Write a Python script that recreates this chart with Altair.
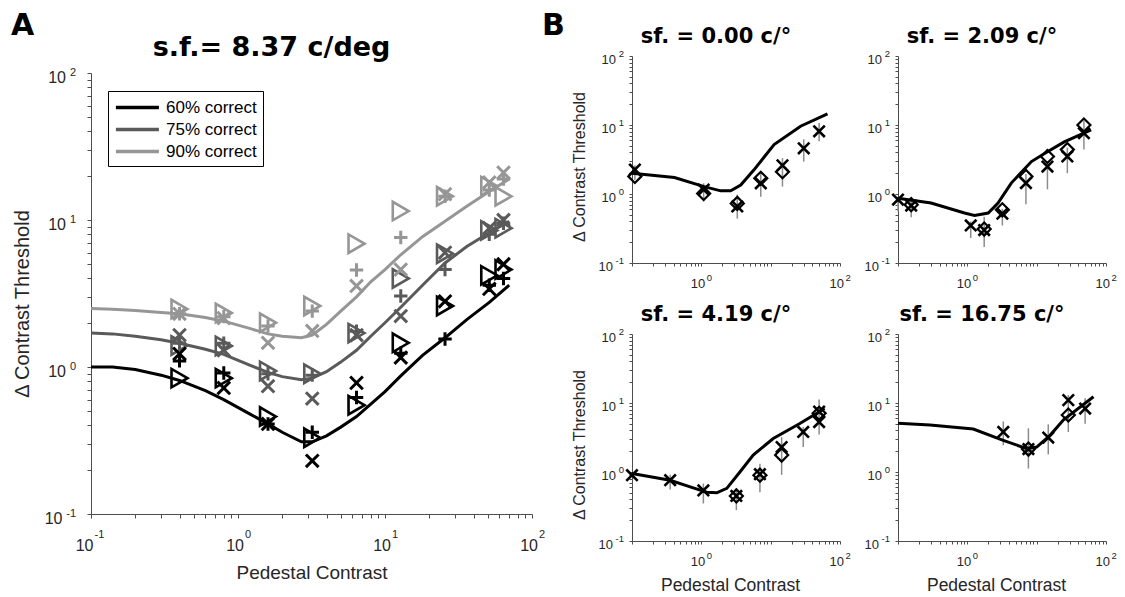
import altair as alt
import pandas as pd

# ---------------- style ----------------
FONT = "Liberation Sans"
BOLD_FONT = "DejaVu Sans"
TXT = "#262626"
AXC = "#4d4d4d"

# ---------------- Panel A data ----------------
A_levels = ["60% correct", "75% correct", "90% correct"]
A_colors = ["#000000", "#5a5a5a", "#969696"]

A_pts_x = [0.4, 0.8, 1.6, 3.2, 6.4, 12.8, 25.6, 51.2, 64]
A_tri_60 = [0.84, 0.84, 0.46, 0.33, 0.55, 1.46, 2.6, 4.2, 4.6]
A_plus_60 = [1.1, 0.91, 0.41, 0.36, 0.62, 1.24, 1.55, 3.6, 4.0]
A_x_60 = [1.23, 0.72, 0.41, 0.23, 0.78, 1.16, 2.8, 3.4, 5.0]
A_tri_75 = [1.4, 1.39, 0.94, 0.9, 1.7, 4.0, 5.9, 8.5, 8.8]
A_plus_75 = [1.45, 1.45, 0.9, 0.88, 1.75, 3.04, 4.6, 8.0, 9.5]
A_x_75 = [1.65, 1.3, 0.74, 0.61, 1.65, 2.22, 6.0, 8.8, 10.0]
A_tri_90 = [2.48, 2.33, 2.0, 2.6, 6.9, 11.5, 14.5, 17.0, 14.5]
A_plus_90 = [2.3, 2.2, 1.9, 2.4, 4.57, 7.6, 14.5, 16.0, 19.0]
A_x_90 = [2.3, 2.15, 1.46, 1.76, 3.56, 4.6, 15.0, 18.0, 21.0]

A_curve_x = [0.1, 0.14, 0.2, 0.3, 0.4, 0.6, 0.8, 1.2, 1.6, 2.0, 2.7, 3.2, 4.0,
             5.0, 6.4, 8.0, 10, 12.8, 18, 25.6, 36, 51.2, 70]
A_curve_60 = [1.0, 1.0, 0.96, 0.88, 0.81, 0.69, 0.60, 0.48, 0.41, 0.36, 0.31, 0.31,
              0.34, 0.39, 0.46, 0.56, 0.68, 0.87, 1.2, 1.58, 2.1, 2.75, 3.6]
A_curve_75 = [1.7, 1.68, 1.62, 1.53, 1.45, 1.32, 1.22, 1.03, 0.92, 0.86, 0.82, 0.84,
              0.93, 1.08, 1.3, 1.62, 2.0, 2.55, 3.6, 5.1, 6.6, 8.2, 9.8]
A_curve_90 = [2.5, 2.47, 2.42, 2.35, 2.3, 2.17, 2.05, 1.83, 1.68, 1.62, 1.58, 1.65,
              1.95, 2.4, 3.0, 3.8, 4.6, 5.8, 7.7, 9.8, 12.4, 15.6, 19.0]

A_title = "s.f.= 8.37 c/deg"

# ---------------- Panel B data ----------------
B_titles = ["sf. = 0.00 c/°", "sf. = 2.09 c/°", "sf. = 4.19 c/°", "sf. = 16.75 c/°"]

B1_line_x = [0.1, 0.41, 1.1, 1.9, 2.65, 3.7, 5.75, 11.2, 27, 66]
B1_line_y = [2.0, 1.73, 1.28, 1.11, 1.11, 1.35, 2.24, 5.2, 9.6, 14.5]
B1_cross_x = [0.11, 1.08, 3.3, 7.2, 14.8, 30, 50]
B1_cross_y = [2.26, 1.16, 0.66, 1.43, 2.6, 4.6, 8.1]
B1_dia_x = [0.11, 1.08, 3.3, 7.2, 14.8]
B1_dia_y = [1.8, 1.02, 0.73, 1.69, 2.1]
B1_err_x = [0.11, 1.08, 3.3, 7.2, 14.8, 30, 50]
B1_err_lo = [1.6, 0.78, 0.44, 0.91, 1.28, 2.95, 5.8]
B1_err_hi = [2.6, 1.43, 0.98, 2.1, 3.3, 6.2, 10.7]

B2_line_x = [0.1, 0.3, 0.91, 1.27, 2.0, 2.77, 4.3, 8.4, 14.3, 25, 61]
B2_line_y = [0.87, 0.74, 0.53, 0.49, 0.53, 0.74, 1.44, 2.95, 4.1, 5.7, 8.5]
B2_cross_x = [0.1, 0.155, 1.12, 1.75, 3.2, 7.0, 14.3, 27.7, 48]
B2_cross_y = [0.83, 0.68, 0.35, 0.30, 0.52, 1.44, 2.5, 3.5, 7.6]
B2_dia_x = [0.155, 1.75, 3.2, 7.0, 14.3, 27.7, 48]
B2_dia_y = [0.70, 0.31, 0.59, 1.8, 3.5, 4.4, 10.0]
B2_err_x = [0.1, 0.155, 1.12, 1.75, 3.2, 7.0, 14.3, 27.7, 48]
B2_err_lo = [0.56, 0.46, 0.23, 0.17, 0.35, 0.71, 1.17, 2.0, 4.4]
B2_err_hi = [0.87, 0.83, 0.40, 0.47, 0.61, 1.95, 3.0, 4.7, 11.4]

B3_line_x = [0.1, 0.355, 0.69, 1.2, 1.67, 2.33, 3.6, 5.6, 10.9, 26, 60]
B3_line_y = [0.95, 0.76, 0.61, 0.51, 0.50, 0.58, 1.0, 1.76, 3.06, 5.0, 8.3]
B3_cross_x = [0.1, 0.355, 1.07, 3.2, 7.0, 14.4, 29.5, 50, 50]
B3_cross_y = [0.9, 0.76, 0.54, 0.45, 0.93, 2.3, 3.8, 5.3, 7.5]
B3_dia_x = [3.2, 7.0, 14.4, 50]
B3_dia_y = [0.45, 0.9, 1.76, 7.1]
B3_err_x = [0.355, 1.07, 3.2, 7.0, 14.4, 29.5, 50]
B3_err_lo = [0.56, 0.35, 0.28, 0.51, 0.91, 2.3, 3.5]
B3_err_hi = [0.91, 0.68, 0.58, 1.32, 3.2, 4.5, 11.2]

B4_line_x = [0.1, 0.29, 1.22, 3.3, 7.2, 10, 15.6, 24.4, 66]
B4_line_y = [5.07, 4.8, 4.2, 2.88, 2.18, 2.3, 3.4, 5.7, 12.3]
B4_cross_x = [3.3, 7.6, 14.7, 28.6, 50]
B4_cross_y = [3.8, 2.15, 3.16, 11.0, 8.3]
B4_dia_x = [7.6, 28.6]
B4_dia_y = [2.15, 6.7]
B4_err_x = [3.3, 7.6, 14.7, 28.6, 50]
B4_err_lo = [2.45, 1.12, 1.8, 3.8, 5.0]
B4_err_hi = [5.4, 4.3, 4.9, 13.0, 11.7]

# ---------------- tick labels ----------------
tick_vals = [0.1, 1, 10, 100]
tick_exps = ["-1", "0", "1", "2"]
B_xtick_vals = [1, 100]
B_xtick_exps = ["0", "2"]

X_SHAPE = "M-1,-1L1,1M-1,1L1,-1"
PLUS_SHAPE = "M-1,0L1,0M0,-1L0,1"
LEGEND_LINE = "M-1,0L4,0"

minor_ticks = [round(m * 10.0 ** e, 6) for e in (-1, 0, 1) for m in range(1, 10)] + [100]
ONE = pd.DataFrame({"v": [0]})


def tick_label_layers(sx, sy, axx, axy, ybot, xv, xe, yv, ye, fs, efs, p):
    out = []
    xdf = pd.DataFrame({"v": xv, "e": xe, "b": ["10"] * len(xv)})
    ydf = pd.DataFrame({"v": yv, "e": ye, "b": ["10"] * len(yv)})
    for neg in (True, False):
        k = "neg" if neg else "pos"
        sub = xdf[xdf["e"].str.startswith("-") == neg]
        if len(sub):
            out.append(alt.Chart(sub).mark_text(
                align="right", baseline="alphabetic", dx=p["xb_dx_" + k],
                font=FONT, fontSize=fs, color=TXT).encode(
                x=alt.X("v:Q", scale=sx, axis=axx), y=alt.value(ybot + p["xb_y"]), text="b:N"))
            out.append(alt.Chart(sub).mark_text(
                align="left", baseline="alphabetic", dx=p["xe_dx_" + k],
                font=FONT, fontSize=efs, color=TXT).encode(
                x=alt.X("v:Q", scale=sx, axis=axx), y=alt.value(ybot + p["xe_y"]), text="e:N"))
        sub = ydf[ydf["e"].str.startswith("-") == neg]
        if len(sub):
            out.append(alt.Chart(sub).mark_text(
                align="right", baseline="alphabetic", dy=p["yb_dy"],
                font=FONT, fontSize=fs, color=TXT).encode(
                x=alt.value(p["yb_x_" + k]), y=alt.Y("v:Q", scale=sy, axis=axy), text="b:N"))
            out.append(alt.Chart(sub).mark_text(
                align="right", baseline="alphabetic", dy=p["ye_dy"],
                font=FONT, fontSize=efs, color=TXT).encode(
                x=alt.value(p["ye_x"]), y=alt.Y("v:Q", scale=sy, axis=axy), text="e:N"))
    return out


# ---------------- Panel A ----------------
# Panel A sits in the first cell of a 3-column grid; its plot is drawn with explicit pixel
# ranges so that it spans both rows of panel B.
A_W, A_TOP, A_SIZE = 483, 17, 441


def panel_a():
    cell_h = 207
    sx = alt.Scale(type="log", domain=[0.1, 100], nice=False, range=[0, A_SIZE])
    sy = alt.Scale(type="log", domain=[0.1, 100], nice=False, range=[A_TOP + A_SIZE, A_TOP])
    ybot = A_TOP + A_SIZE
    curves = pd.DataFrame({
        "x": A_curve_x * 3,
        "y": A_curve_60 + A_curve_75 + A_curve_90,
        "level": [A_levels[0]] * len(A_curve_x) + [A_levels[1]] * len(A_curve_x)
                 + [A_levels[2]] * len(A_curve_x),
    })

    def pts(series_by_level):
        rows = []
        for lvl_i in (2, 1, 0):
            for xv, yv in zip(A_pts_x, series_by_level[lvl_i]):
                rows.append({"x": xv, "y": yv, "col": A_colors[lvl_i]})
        return pd.DataFrame(rows)

    tri = pts([A_tri_60, A_tri_75, A_tri_90])
    plus = pts([A_plus_60, A_plus_75, A_plus_90])
    xx = pts([A_x_60, A_x_75, A_x_90])

    ax_x = alt.Axis(values=minor_ticks, labels=False, tickSize=4, tickColor=AXC, domainColor=AXC,
                    grid=False, offset=ybot - cell_h, title="Pedestal Contrast", titleFont=FONT,
                    titleFontSize=19, titleFontWeight="normal", titleColor=TXT,
                    titleX=A_SIZE / 2, titleY=64, titleAlign="center",
                    titleBaseline="alphabetic")
    ax_y = alt.Axis(values=minor_ticks, labels=False, tickSize=4, tickColor=AXC, domainColor=AXC,
                    grid=False, title="Δ Contrast Threshold", titleFont=FONT, titleFontSize=20,
                    titleFontWeight="normal", titleColor=TXT, titleX=-63,
                    titleY=A_TOP + A_SIZE / 2 + 10, titleAlign="center",
                    titleBaseline="alphabetic", titleAngle=270)

    lines = alt.Chart(curves).mark_line(strokeWidth=3).encode(
        x=alt.X("x:Q", scale=sx, axis=ax_x),
        y=alt.Y("y:Q", scale=sy, axis=ax_y),
        color=alt.Color("level:N", scale=alt.Scale(domain=A_levels, range=A_colors),
                        legend=alt.Legend(title=None, orient="none", legendX=17,
                                          legendY=A_TOP + 18, symbolType=LEGEND_LINE,
                                          symbolSize=296, symbolStrokeWidth=3.5,
                                          labelFont=FONT, labelFontSize=17, labelColor="black",
                                          labelOffset=31, padding=6, rowPadding=3,
                                          strokeColor="black", fillColor="white",
                                          cornerRadius=0, labelLimit=300)),
    )

    def mk(df, shape, size, sw):
        return alt.Chart(df).mark_point(shape=shape, size=size, filled=False, strokeWidth=sw,
                                        opacity=1).encode(
            x=alt.X("x:Q", scale=sx, axis=ax_x), y=alt.Y("y:Q", scale=sy, axis=ax_y),
            stroke=alt.Stroke("col:N", scale=None))

    layers = [lines, mk(tri, "triangle-right", 340, 2.6), mk(plus, PLUS_SHAPE, 180, 3),
              mk(xx, X_SHAPE, 160, 3)]
    p = dict(xb_y=37, xe_y=24, xb_dx_neg=2.5, xe_dx_neg=3.5, xb_dx_pos=6, xe_dx_pos=7,
             yb_x_neg=-28.5, yb_x_pos=-25, ye_x=-15, yb_dy=10, ye_dy=3)
    layers += tick_label_layers(sx, sy, ax_x, ax_y, ybot, tick_vals, tick_exps, tick_vals,
                                tick_exps, 16, 11, p)
    layers.append(alt.Chart(ONE).mark_text(text=A_title, font=BOLD_FONT, fontSize=27,
                                           fontWeight="bold", color="black", align="center",
                                           baseline="alphabetic").encode(
        x=alt.value(A_SIZE / 2 - 40), y=alt.value(A_TOP - 17)))
    layers.append(alt.Chart(ONE).mark_text(text="A", font=BOLD_FONT, fontSize=30,
                                           fontWeight="bold", color="black", align="left",
                                           baseline="alphabetic").encode(
        x=alt.value(-80), y=alt.value(A_TOP - 38)))
    # white anchor point fixing the top-left corner of the whole figure
    layers.append(alt.Chart(ONE).mark_rule(color="white", strokeWidth=1).encode(
        x=alt.value(-82), x2=alt.value(-82), y=alt.value(A_TOP - 64), y2=alt.value(A_TOP - 63)))
    return alt.layer(*layers).properties(width=A_W, height=cell_h)


# ---------------- Panel B ----------------
def panel_b(title, lx, ly, cx, cy, dx_, dy_, ex, elo, ehi, show_x, show_y, letter=None):
    w, h = 208, 207
    sx = alt.Scale(type="log", domain=[0.1, 100], nice=False)
    sy = alt.Scale(type="log", domain=[0.1, 100], nice=False)
    ax_x = alt.Axis(values=minor_ticks, labels=False, tickSize=3, tickColor=AXC, domainColor=AXC,
                    grid=False, title="Pedestal Contrast" if show_x else None, titleFont=FONT,
                    titleFontSize=17.5, titleFontWeight="normal", titleColor=TXT,
                    titleX=w / 2 - 6, titleY=49, titleAlign="center", titleBaseline="alphabetic")
    ax_y = alt.Axis(values=minor_ticks, labels=False, tickSize=3, tickColor=AXC, domainColor=AXC,
                    grid=False, title="Δ Contrast Threshold" if show_y else None, titleFont=FONT,
                    titleFontSize=16, titleFontWeight="normal", titleColor=TXT, titleX=-48,
                    titleY=h / 2 + 7, titleAlign="center", titleBaseline="alphabetic",
                    titleAngle=270)
    X = alt.X("x:Q", scale=sx, axis=ax_x)
    err = alt.Chart(pd.DataFrame({"x": ex, "lo": elo, "hi": ehi})).mark_rule(
        color="#8c8c8c", strokeWidth=1.5).encode(
        x=X, y=alt.Y("lo:Q", scale=sy, axis=ax_y), y2="hi:Q")
    line = alt.Chart(pd.DataFrame({"x": lx, "y": ly})).mark_line(
        color="black", strokeWidth=3).encode(x=X, y=alt.Y("y:Q", scale=sy, axis=ax_y))
    dia = alt.Chart(pd.DataFrame({"x": dx_, "y": dy_})).mark_point(
        shape="diamond", size=170, filled=False, stroke="black", strokeWidth=2.2,
        opacity=1).encode(x=X, y=alt.Y("y:Q", scale=sy, axis=ax_y))
    cross = alt.Chart(pd.DataFrame({"x": cx, "y": cy})).mark_point(
        shape=X_SHAPE, size=130, filled=False, stroke="black", strokeWidth=2.6,
        opacity=1).encode(x=X, y=alt.Y("y:Q", scale=sy, axis=ax_y))
    layers = [err, line, dia, cross]
    p = dict(xb_y=25, xe_y=18, xb_dx_neg=1.5, xe_dx_neg=2.5, xb_dx_pos=4, xe_dx_pos=5.5,
             yb_x_neg=-19, yb_x_pos=-16, ye_x=-8, yb_dy=8, ye_dy=1)
    layers += tick_label_layers(sx, sy, ax_x, ax_y, h, B_xtick_vals, B_xtick_exps, tick_vals,
                                tick_exps, 13, 9.5, p)
    layers.append(alt.Chart(ONE).mark_text(text=title, font=BOLD_FONT, fontSize=21,
                                           fontWeight="bold", color="black", align="center",
                                           baseline="alphabetic").encode(
        x=alt.value(w / 2 - 20), y=alt.value(-13)))
    if letter:
        layers.append(alt.Chart(ONE).mark_text(text=letter, font=BOLD_FONT, fontSize=30,
                                               fontWeight="bold", color="black", align="left",
                                               baseline="alphabetic").encode(
            x=alt.value(-90), y=alt.value(-21)))
    return alt.layer(*layers).properties(width=w, height=h)


chartA = panel_a()
b1 = panel_b(B_titles[0], B1_line_x, B1_line_y, B1_cross_x, B1_cross_y, B1_dia_x, B1_dia_y,
             B1_err_x, B1_err_lo, B1_err_hi, False, True, letter="B")
b2 = panel_b(B_titles[1], B2_line_x, B2_line_y, B2_cross_x, B2_cross_y, B2_dia_x, B2_dia_y,
             B2_err_x, B2_err_lo, B2_err_hi, False, False)
b3 = panel_b(B_titles[2], B3_line_x, B3_line_y, B3_cross_x, B3_cross_y, B3_dia_x, B3_dia_y,
             B3_err_x, B3_err_lo, B3_err_hi, True, True)
b4 = panel_b(B_titles[3], B4_line_x, B4_line_y, B4_cross_x, B4_cross_y, B4_dia_x, B4_dia_y,
             B4_err_x, B4_err_lo, B4_err_hi, True, False)

filler = alt.Chart(ONE).mark_text(text="").encode(
    x=alt.value(0), y=alt.value(0)).properties(width=1, height=1)

chart = alt.concat(chartA, b1, b2, filler, b3, b4, columns=3,
                   spacing={"row": 71, "column": 58}, bounds="flush").properties(
    padding=0).configure_view(stroke=None)

chart.save("out.html", embed_options={"renderer": "svg", "actions": False})
